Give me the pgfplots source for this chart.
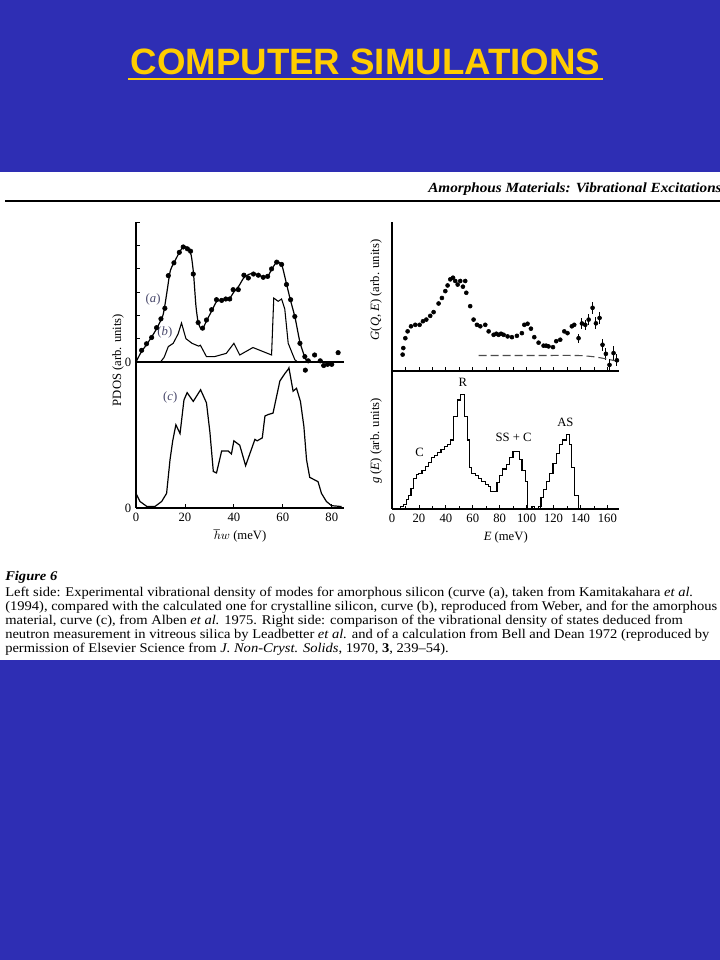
\documentclass[border=0pt]{standalone}
\usepackage{pgfplots}
\pgfplotsset{compat=1.18}
\usepackage{fontspec}
\setmainfont{Liberation Serif}
\newfontfamily\titlefont{Liberation Sans}
\usepackage{graphicx}

\definecolor{slideblue}{RGB}{46,46,180}
\definecolor{titleyellow}{RGB}{255,204,0}
\definecolor{labgray}{RGB}{70,70,105}

\newcommand\figfont{\fontsize{9.5}{10}\selectfont}
\newcommand\capfont{\fontsize{10}{12}\selectfont}

\pgfplotsset{
  panel/.style={
    scale only axis, clip=false,
    axis x line*=bottom, axis y line*=left,
    x axis line style={-, line width=0.8pt},
    y axis line style={-, line width=0.8pt},
    tick align=inside, tick style={black, line width=0.6pt},
    major tick length=3pt, minor tick length=2.5pt,
    tick label style={font=\figfont},
    /pgf/number format/assume math mode=true,
    label style={font=\figfont},
  },
}

% right side, top: G(Q,E) points
\pgfplotstableread{
x y
7.9 0.11
8.4 0.154
9.9 0.22
11.6 0.266
14.1 0.30
17.3 0.31
20.5 0.31
23.0 0.334
25.5 0.345
28.4 0.37
30.9 0.395
34.6 0.453
37.1 0.49
39.6 0.536
41.3 0.574
43.3 0.615
45.3 0.626
47.0 0.604
48.8 0.58
50.7 0.604
52.7 0.566
54.4 0.604
55.2 0.525
58.1 0.435
60.6 0.345
63.1 0.31
65.6 0.30
69.3 0.31
71.8 0.266
75.5 0.243
77.5 0.25
79.2 0.243
81.0 0.25
82.9 0.243
85.9 0.232
89.1 0.227
92.8 0.236
96.5 0.254
98.3 0.31
100.7 0.317
103.2 0.284
105.7 0.227
108.9 0.19
112.6 0.17
114.5 0.17
116.3 0.165
119.6 0.16
122.0 0.20
125.0 0.21
128.0 0.266
130.4 0.254
133.6 0.30
135.4 0.31
}\gqe
\pgfplotstableread{
x y e
138.6 0.22 0.03
141.1 0.319 0.035
143.6 0.31 0.035
146.1 0.345 0.035
149.0 0.424 0.04
151.5 0.32 0.04
154.2 0.356 0.04
156.4 0.176 0.04
158.9 0.115 0.04
161.6 0.041 0.04
164.6 0.12 0.045
167.1 0.072 0.04
}\gqeerr

\newsavebox\capbox
\sbox\capbox{\capfont Left side: Experimental vibrational density of modes for amorphous silicon (curve (a), taken from Kamitakahara \textit{et al.}}
\pgfmathsetmacro\capsx{516pt/\wd\capbox}

\begin{document}
\begin{tikzpicture}[x=0.75pt,y=0.75pt]
\useasboundingbox (0,0) rectangle (720,960);
\fill[slideblue] (0,0) rectangle (720,960);
\fill[white] (0,960-172) rectangle (720,960-660);

% slide title
\node[anchor=base, inner sep=0, text=titleyellow,
  font=\titlefont\bfseries\fontsize{27.5}{30}\selectfont] at (365.5,960-75) {COMPUTER SIMULATIONS};
\draw[titleyellow, line width=1.8pt] (128,960-79) -- (603,960-79);

% page header
\node[anchor=base west, inner sep=0, font=\bfseries\itshape\fontsize{10.5}{12}\selectfont]
  at (428,960-193) {\resizebox{220pt}{\height}{Amorphous Materials: Vibrational Excitations}};
\draw[line width=1.2pt] (5,960-201) -- (720,960-201);

% left top: curves (a) and (b)
\begin{axis}[panel, at={(102pt,448.5pt)}, anchor=south west,
  width=156pt, height=105pt, xmin=0, xmax=85, ymin=0, ymax=6,
  xtick=\empty, ytick={0,1,...,6}, yticklabels={0,,,,,,}]
\addplot[black, line width=0.9pt, smooth, tension=0.4] coordinates {
  (0,0) (2,0.4) (5,0.85) (8,1.35) (11,2.0) (12.5,2.9) (14,3.9) (16,4.35)
  (18,4.75) (19.5,4.95) (21,4.9) (22.5,4.6) (23.5,3.8) (24.5,2.4) (25.5,1.65)
  (27,1.4) (29,1.8) (31,2.2) (33,2.6) (35,2.65) (38,2.7) (40,3.0) (42,3.25)
  (44,3.6) (46,3.75) (48,3.8) (50,3.72) (52,3.65) (54,3.7) (55.5,3.98)
  (57.5,4.28) (59.5,4.18) (61.5,3.35) (63,2.7) (65,1.9) (67,0.85) (69,0.2) (70,0)};
\addplot[only marks, mark=*, mark size=1.7pt, black] coordinates {
  (2.3,0.5) (4.3,0.78) (6.4,1.05) (8.4,1.47) (10.2,1.85) (11.8,2.3) (13.2,3.7)
  (15.5,4.25) (17.7,4.7) (19.3,4.93) (21,4.85) (22.3,4.75) (23.4,3.77) (25.4,1.69)
  (27.2,1.45) (28.8,1.8) (30.9,2.24) (32.9,2.67) (35,2.64) (36.7,2.7) (38.3,2.7)
  (39.7,3.1) (41.8,3.1) (44.1,3.72) (45.9,3.6) (48,3.77) (50,3.72) (52,3.63)
  (53.8,3.67) (55.4,3.99) (57.5,4.28) (59.5,4.18) (61.5,3.32) (63.2,2.67)
  (64.9,1.95) (67,0.8) (69,0.23) (70.4,0.05) (69.2,-0.35) (73,0.3) (75.3,0.05)
  (76.7,-0.15) (78.3,-0.1) (80,-0.1) (82.6,0.4)};
\addplot[black, line width=0.8pt] coordinates {
  (0,0) (10,0) (11.5,0.2) (13.2,0.66) (15.2,0.8) (17.2,1.2) (18.6,1.67)
  (20.4,1.0) (22.9,0.8) (25.6,0.68) (26.3,0.72) (28.8,0.23) (32.1,0.23)
  (36.9,0.37) (40,0.8) (42.4,0.3) (47.8,0.62) (55.4,0.3) (56.3,2.74) (58.1,2.6)
  (59.5,2.7) (60.8,2.27) (62.2,0.8) (64.9,0.1) (66,0)};
\node[labgray, font=\figfont] at (7,2.67) {(\textit{a})};
\node[labgray, font=\figfont] at (11.8,1.25) {(\textit{b})};
\end{axis}

% left bottom: curve (c)
\begin{axis}[panel, at={(102pt,339pt)}, anchor=south west,
  width=156pt, height=109.5pt, xmin=0, xmax=85, ymin=0, ymax=1,
  xtick={0,20,...,80}, ytick={0}, xlabel={$\hbar w$ (meV)}]
\addplot[black, line width=0.9pt] coordinates {
  (0,0.10) (1.6,0.045) (4.4,0.011) (7.8,0.011) (10.5,0.045) (12.5,0.10)
  (13.9,0.33) (15,0.46) (16.3,0.57) (18,0.51) (19.6,0.74) (20.9,0.79)
  (23.4,0.73) (26.4,0.81) (28.8,0.72) (30.2,0.52) (31.6,0.25) (32.9,0.24)
  (35,0.39) (37.7,0.39) (39,0.37) (40,0.46) (42.4,0.43) (44.8,0.29)
  (48.6,0.47) (49.5,0.46) (51.6,0.48) (52.7,0.63) (54,0.64) (56,0.65)
  (57.4,0.76) (58.8,0.87) (60.8,0.92) (62.2,0.95) (62.5,0.96) (64.2,0.80)
  (65.6,0.82) (67.2,0.73) (68.6,0.56) (69.7,0.33) (71,0.21) (74.4,0.18)
  (75.8,0.10) (77.8,0.045) (79.9,0.016) (84,0.01)};
\node[labgray, font=\figfont] at (14,0.76) {(\textit{c})};
\end{axis}

% right top: G(Q,E)
\begin{axis}[panel, at={(294pt,441.75pt)}, anchor=south west,
  width=170.6pt, height=111.75pt, xmin=0, xmax=169, ymin=0, ymax=1,
  xtick={0,10,...,160}, xticklabels={}, ytick=\empty]
\addplot[only marks, mark=*, mark size=1.5pt, black] table[x=x, y=y] {\gqe};
\addplot[only marks, mark=*, mark size=1.5pt, black,
  error bars/.cd, y dir=both, y explicit, error mark=none,
  error bar style={line width=0.7pt}] table[x=x, y=y, y error=e] {\gqeerr};
\addplot[black!70, line width=0.8pt, dash pattern=on 6pt off 3pt, smooth] coordinates {
  (64.3,0.104) (100,0.104) (137,0.104) (145,0.10) (152,0.093) (158,0.083)
  (163,0.074) (168,0.063)};
\end{axis}

% right bottom: g(E)
\begin{axis}[panel, at={(294pt,338.25pt)}, anchor=south west,
  width=170.6pt, height=103.5pt, xmin=0, xmax=169, ymin=0, ymax=1,
  xtick={0,20,...,160}, minor xtick={10,30,...,150}, ytick=\empty,
  xlabel={\textit{E} (meV)}]
\addplot[const plot, black, line width=0.8pt] coordinates {
  (5.9,0) (6,0.02) (8.6,0.03) (10.6,0.07) (12.4,0.10) (14.1,0.15) (16.1,0.22)
  (18.1,0.25) (19.8,0.26) (22.3,0.28) (24.7,0.31) (27.2,0.34) (29.2,0.37)
  (31.4,0.39) (33.9,0.41) (36.4,0.43) (38.9,0.45) (41.3,0.47) (43.3,0.50)
  (45.8,0.67) (48.8,0.79) (51.2,0.83) (53.7,0.67) (56.2,0.50) (57.7,0.30)
  (59.4,0.26) (61.9,0.24) (64.4,0.22) (66.8,0.20) (69.3,0.18) (71.8,0.16)
  (73.5,0.13) (78,0.19) (80,0.24) (82.4,0.29) (84.9,0.32) (87.4,0.37)
  (89.9,0.42) (94.6,0.36) (96.6,0.28) (99,0.20) (101,0) (104,0.02) (106,0)
  (109,0.02) (110.7,0.08) (112.7,0.14) (114.7,0.20) (117.1,0.26) (119.6,0.33)
  (122,0.40) (124.6,0.47) (127,0.50) (129.3,0.54) (131.7,0.47) (133.7,0.30)
  (135.7,0.10) (138.6,0) (140,0)};
\node[font=\figfont] at (52.7,0.92) {R};
\node[font=\figfont] at (20.5,0.41) {C};
\node[font=\figfont] at (90.4,0.52) {SS + C};
\node[font=\figfont] at (128.8,0.63) {AS};
\end{axis}

% y labels
\node[rotate=90, font=\figfont] at (118,960-360) {PDOS (arb. units)};
\node[rotate=90, font=\figfont] at (376,960-290) {\textit{G}(\textit{Q}, \textit{E}) (arb. units)};
\node[rotate=90, font=\figfont] at (376,960-441) {\textit{g} (\textit{E}) (arb. units)};

% caption
\node[anchor=base west, inner sep=0, font=\bfseries\itshape\capfont] at (5,960-581)
  {\scalebox{\capsx}[1]{Figure 6}};
\node[anchor=base west, inner sep=0, font=\capfont] at (5,960-597)
  {\scalebox{\capsx}[1]{Left side: Experimental vibrational density of modes for amorphous silicon (curve (a), taken from Kamitakahara \textit{et al.}}};
\node[anchor=base west, inner sep=0, font=\capfont] at (5,960-611)
  {\scalebox{\capsx}[1]{(1994), compared with the calculated one for crystalline silicon, curve (b), reproduced from Weber, and for the amorphous}};
\node[anchor=base west, inner sep=0, font=\capfont] at (5,960-625)
  {\scalebox{\capsx}[1]{material, curve (c), from Alben \textit{et al.} 1975. Right side: comparison of the vibrational density of states deduced from}};
\node[anchor=base west, inner sep=0, font=\capfont] at (5,960-639)
  {\scalebox{\capsx}[1]{neutron measurement in vitreous silica by Leadbetter \textit{et al.} and of a calculation from Bell and Dean 1972 (reproduced by}};
\node[anchor=base west, inner sep=0, font=\capfont] at (5,960-653)
  {\scalebox{\capsx}[1]{permission of Elsevier Science from \textit{J. Non-Cryst. Solids}, 1970, \textbf{3}, 239--54).}};
\end{tikzpicture}
\end{document}
